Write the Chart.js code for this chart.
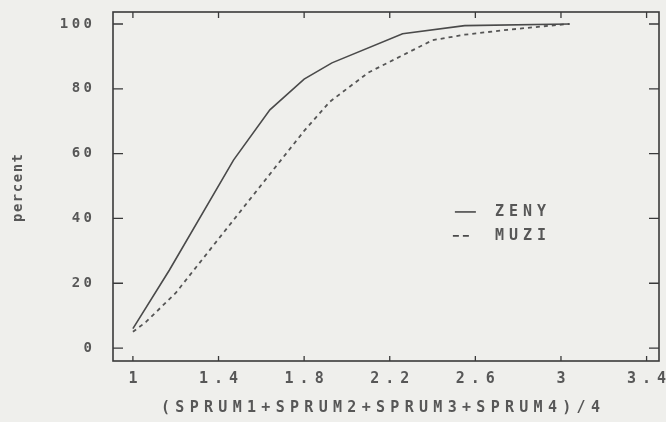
<!DOCTYPE html>
<html>
<head>
<meta charset="utf-8">
<script src="https://cdn.jsdelivr.net/npm/chart.js@4.4.1/dist/chart.umd.min.js"></script>
<style>
  html, body { margin: 0; padding: 0; background: #efefec; }
  canvas { display: block; }
</style>
</head>
<body>
<canvas id="myChart" width="666" height="422"></canvas>
<script>
// cumulative percent
const zenyX = [1.0, 1.17, 1.47, 1.64, 1.8, 1.93, 2.26, 2.55, 3.04];
const zenyY = [6, 24, 58, 73.5, 83, 88, 97, 99.5, 100];
const muziX = [1.0, 1.06, 1.2, 1.5, 1.8, 1.92, 2.1, 2.28, 2.4, 2.55, 2.75, 2.95, 3.04];
const muziY = [5, 8, 17, 42, 67, 76, 85, 91, 95, 96.7, 98.2, 99.5, 100];

const xTicks = [1, 1.4, 1.8, 2.2, 2.6, 3, 3.4];
const yTicks = [0, 20, 40, 60, 80, 100];
const seriesNames = ["ZENY", "MUZI"];
const xTitle = "(SPRUM1+SPRUM2+SPRUM3+SPRUM4)/4";
const yTitle = "percent";

const ink = "#575757";
const mono = "'DejaVu Sans Mono', 'Liberation Mono', monospace";

function toPoints(xs, ys) {
    return xs.map((x, i) => ({ x: x, y: ys[i] }));
}

// draws text with wide plotter-like letter spacing
function spacedText(ctx, text, x, y, align, spacing) {
    ctx.letterSpacing = spacing + "px";
    const w = ctx.measureText(text).width - spacing;
    let left = x;
    if (align === "center") left = x - w / 2;
    if (align === "right") left = x - w;
    ctx.textAlign = "left";
    ctx.fillText(text, left, y);
    ctx.letterSpacing = "0px";
}

const plotterFrame = {
    id: "plotterFrame",
    beforeDraw(chart) {
        const ctx = chart.ctx;
        ctx.save();
        ctx.fillStyle = "#efefec";
        ctx.fillRect(0, 0, chart.width, chart.height);
        ctx.restore();
    },
    afterDraw(chart) {
        const { ctx, chartArea: a, scales } = chart;
        const x = scales.x, y = scales.y;
        ctx.save();
        ctx.strokeStyle = "#3a3a3a";
        ctx.lineWidth = 1.6;
        ctx.strokeRect(a.left, a.top, a.right - a.left, a.bottom - a.top);

        ctx.lineWidth = 1.3;
        ctx.beginPath();
        xTicks.forEach(v => {
            const px = x.getPixelForValue(v);
            ctx.moveTo(px, a.bottom); ctx.lineTo(px, a.bottom - 5);
            ctx.moveTo(px, a.top); ctx.lineTo(px, a.top + 6);
        });
        yTicks.forEach(v => {
            const py = y.getPixelForValue(v);
            ctx.moveTo(a.left, py); ctx.lineTo(a.left + 10, py);
            ctx.moveTo(a.right, py); ctx.lineTo(a.right - 10, py);
        });
        ctx.stroke();

        ctx.fillStyle = ink;
        ctx.textBaseline = "middle";

        ctx.font = "bold 14px " + mono;
        yTicks.forEach(v => {
            spacedText(ctx, String(v), a.left - 21, y.getPixelForValue(v), "right", 3.5);
        });

        ctx.font = "bold 15px " + mono;
        xTicks.forEach(v => {
            spacedText(ctx, String(v), x.getPixelForValue(v), a.bottom + 18, "center", 6);
        });
        spacedText(ctx, xTitle, (156 + 605) / 2, a.bottom + 47, "center", 5.3);

        ctx.save();
        ctx.font = "bold 14px " + mono;
        ctx.translate(18, 188);
        ctx.rotate(-Math.PI / 2);
        spacedText(ctx, yTitle, 0, 0, "center", 1.5);
        ctx.restore();

        // legend, anchored in data space
        const lx = x.getPixelForValue(2.495);
        const ly = y.getPixelForValue(42);
        ctx.font = "bold 15px " + mono;
        ctx.strokeStyle = "#4a4a4a";
        ctx.lineWidth = 1.6;
        ctx.beginPath();
        ctx.moveTo(lx + 2, ly); ctx.lineTo(lx + 23, ly);
        ctx.stroke();
        ctx.setLineDash([6, 4]);
        ctx.lineWidth = 1.8;
        ctx.beginPath();
        ctx.moveTo(lx, ly + 24); ctx.lineTo(lx + 17, ly + 24);
        ctx.stroke();
        ctx.setLineDash([]);
        spacedText(ctx, seriesNames[0], lx + 42, ly, "left", 5);
        spacedText(ctx, seriesNames[1], lx + 42, ly + 24, "left", 5);
        ctx.restore();
    }
};

const ctx = document.getElementById("myChart").getContext("2d");

new Chart(ctx, {
    type: "line",
    data: {
        datasets: [
            {
                label: seriesNames[0],
                data: toPoints(zenyX, zenyY),
                borderColor: "#4a4a4a",
                borderWidth: 1.6,
                pointRadius: 0,
                tension: 0
            },
            {
                label: seriesNames[1],
                data: toPoints(muziX, muziY),
                borderColor: "#555555",
                borderWidth: 1.8,
                borderDash: [4, 4],
                pointRadius: 0,
                tension: 0
            }
        ]
    },
    options: {
        responsive: false,
        animation: false,
        layout: {
            padding: { left: 113, top: 12, right: 7, bottom: 61 }
        },
        scales: {
            x: { type: "linear", min: 0.907, max: 3.458, display: false },
            y: { type: "linear", min: -4, max: 103.7, display: false }
        },
        plugins: {
            legend: { display: false },
            tooltip: { enabled: false }
        }
    },
    plugins: [plotterFrame]
});
</script>
</body>
</html>
